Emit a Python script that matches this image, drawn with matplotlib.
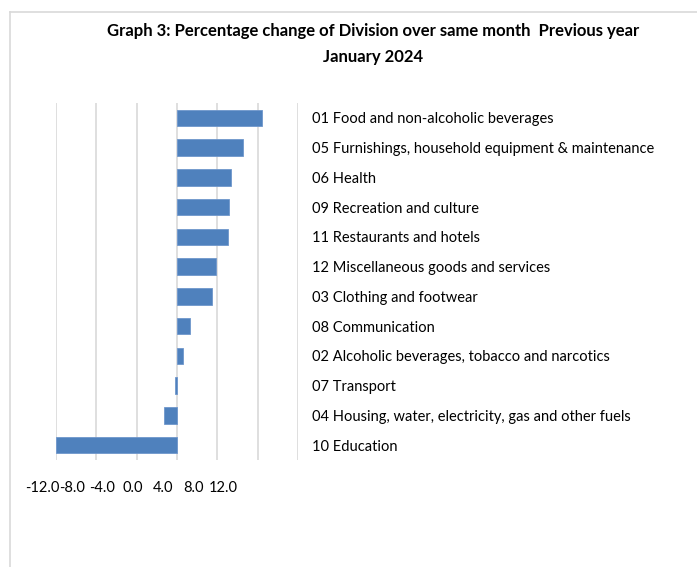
import matplotlib
matplotlib.use('Agg')
import matplotlib.pyplot as plt
from matplotlib.lines import Line2D

plt.rcParams['font.family'] = ['Lato', 'DejaVu Sans']

# divisions, top to bottom
divisions = [
    '01 Food and non-alcoholic beverages',
    '05 Furnishings, household equipment & maintenance',
    '06 Health',
    '09 Recreation and culture',
    '11 Restaurants and hotels',
    '12 Miscellaneous goods and services',
    '03 Clothing and footwear',
    '08 Communication',
    '02 Alcoholic beverages, tobacco and narcotics',
    '07 Transport',
    '04 Housing, water, electricity, gas and other fuels',
    '10 Education',
]
pct_change = [8.4, 6.5, 5.4, 5.2, 5.1, 3.85, 3.45, 1.3, 0.6, -0.2, -1.3, -12.0]
ticks = [-12, -8, -4, 0, 4, 8, 12]
tick_labels = ['-12.0', '-8.0', '-4.0', '0.0', '4.0', '8.0', '12.0']

fig = plt.figure(figsize=(6.97, 5.67), dpi=100)

# grey frame of the chart area
fig.add_artist(Line2D([10/697, 10/697], [0, 1 - 12/567], color='#d9d9d9', lw=1.2))
fig.add_artist(Line2D([10/697, 1], [1 - 12/567, 1 - 12/567], color='#d9d9d9', lw=1.2))

fig.text(373/697, 1 - 31/567, 'Graph 3: Percentage change of Division over same month  Previous year',
         ha='center', va='center', fontsize=12, fontweight='bold')
fig.text(373/697, 1 - 57/567, 'January 2024', ha='center', va='center',
         fontsize=12, fontweight='bold')

ax = fig.add_axes([56/697, 1 - 460/567, 242/697, 357/567])
ypos = list(range(len(divisions)))
ax.barh(ypos, pct_change, height=0.56, color='#4f81bd', edgecolor='#6f97cc', linewidth=0.6, zorder=3)
ax.set_xlim(-12, 12)
ax.set_ylim(len(divisions) - 0.5, -0.5)
ax.set_xticks(ticks)
ax.tick_params(axis='x', labelbottom=False, length=0)
ax.grid(axis='x', color='#d9d9d9', linewidth=1.2, zorder=0)
ax.set_yticks(ypos)
ax.set_yticklabels(divisions, fontsize=10.5)
ax.yaxis.tick_right()
ax.tick_params(axis='y', length=0, pad=10)
for s in ax.spines.values():
    s.set_visible(False)

# x tick labels row, drawn squeezed as in the original
ax_lbl = fig.add_axes([42/697, 1 - 481/567, 181.5/697, 0.001])
ax_lbl.set_xlim(-12, 12)
ax_lbl.set_xticks(ticks)
ax_lbl.set_xticklabels(tick_labels, fontsize=10.5)
ax_lbl.tick_params(axis='x', length=0, pad=0)
ax_lbl.set_yticks([])
for s in ax_lbl.spines.values():
    s.set_visible(False)
ax_lbl.patch.set_visible(False)

fig.savefig('out.png', dpi=100)
